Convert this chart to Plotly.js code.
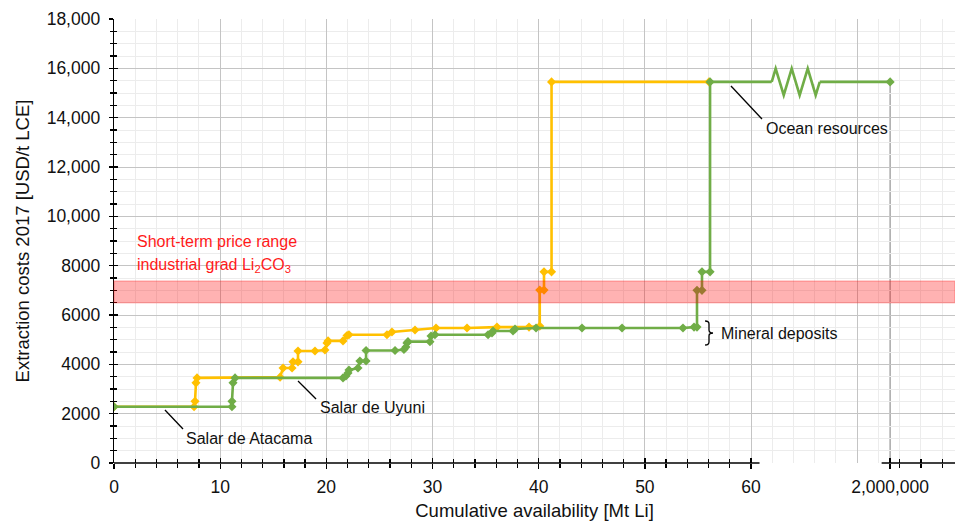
<!DOCTYPE html>
<html><head><meta charset="utf-8">
<script src="https://cdn.plot.ly/plotly-3.0.1.min.js"></script>
<style>html,body{margin:0;padding:0;background:#fff}</style>
</head><body><div id="chart" style="width:955px;height:522px"></div>
<script>
// ---- Data: cumulative availability [Mt Li] vs extraction cost 2017 [USD/t LCE]
const orangeX = [0, 7.54, 7.63, 7.72, 7.82, 15.64, 15.92, 16.77, 16.86, 17.33, 17.33, 18.93, 19.87, 20.06, 20.16, 21.57, 21.95, 22.13, 25.71, 26.18, 28.35, 30.33, 33.25, 36.07, 39.09, 40.1, 40.1, 40.5, 40.5, 41.21, 41.21, 56.04];
const orangeY = [2280, 2280, 2500, 3250, 3450, 3480, 3850, 3850, 4100, 4100, 4540, 4540, 4580, 4860, 4950, 4950, 5170, 5200, 5200, 5310, 5390, 5470, 5470, 5510, 5510, 5550, 7010, 7010, 7750, 7750, 15450, 15450];

const greenX = [0, 11.11, 11.11, 11.21, 11.40, 21.57, 21.85, 22.04, 22.13, 22.98, 23.16, 23.74, 23.74, 26.47, 27.31, 27.50, 27.59, 27.69, 29.76, 29.86, 30.23, 35.23, 35.60, 35.70, 37.58, 37.77, 39.75, 44.08, 47.85, 53.59, 54.63, 54.91, 54.91, 55.38, 55.38, 56.14, 56.14, 2000000];
const greenY = [2280, 2280, 2500, 3250, 3450, 3450, 3530, 3650, 3770, 3850, 4135, 4135, 4560, 4560, 4600, 4700, 4865, 4920, 4920, 5150, 5200, 5200, 5270, 5350, 5350, 5430, 5470, 5470, 5470, 5470, 5510, 5510, 7000, 7000, 7750, 7750, 15450, 15450];

const priceBand = [6500, 7380];          // short-term price range industrial grade Li2CO3
const xTickVals = [0, 10, 20, 30, 40, 50, 60, 2000000];
const xTickText = ['0', '10', '20', '30', '40', '50', '60', '2,000,000'];
const yTickVals = [0, 2000, 4000, 6000, 8000, 10000, 12000, 14000, 16000, 18000];
const yTickText = ['0', '2000', '4000', '6000', '8000', '10,000', '12,000', '14,000', '16,000', '18,000'];

// ---- broken x axis: linear 0..~61, then the 2,000,000 mark placed after the break
const BRK = {segEnd: 60.8, segStart: 72.3, bigValue: 2000000, bigAt: 73.1, axisMax: 79.21};
function toAxis(v) { return v <= 62 ? v : BRK.bigAt + (v - BRK.bigValue) / 100000; }

const FONT = 'Liberation Sans, Arial, Helvetica, sans-serif';
const ORANGE = '#FFC000', GREEN = '#70AD47';

const majorX = xTickVals.map(toAxis);
const minorXTicks = [], minorXGrid = [], majorXGrid = [];
for (let v = 2; v <= 58; v += 2) if (v % 10) minorXTicks.push(v);
for (let v = 74; v <= 78; v += 2) minorXTicks.push(v);
for (let v = 0; v <= 78; v += 2) minorXGrid.push(v);
for (let v = 0; v <= 70; v += 10) majorXGrid.push(v);

const traces = [
  {x: orangeX.map(toAxis), y: orangeY, xaxis: 'x', yaxis: 'y', mode: 'lines+markers',
   line: {color: ORANGE, width: 2.6}, marker: {symbol: 'diamond', size: 7, color: ORANGE}, hoverinfo: 'skip'},
  {x: greenX.map(toAxis), y: greenY, xaxis: 'x', yaxis: 'y', mode: 'lines+markers',
   line: {color: GREEN, width: 2.6}, marker: {symbol: 'diamond', size: 7, color: GREEN}, hoverinfo: 'skip'},
  {x: [null], y: [null], xaxis: 'x2', yaxis: 'y2', mode: 'markers', hoverinfo: 'skip'},
  {x: [null], y: [null], xaxis: 'x3', yaxis: 'y3', mode: 'markers', hoverinfo: 'skip'}
];

const tickStyle = {tickcolor: '#000', tickwidth: 1.3};
const xr = [0, BRK.axisMax];
const layout = {
  width: 955, height: 522, margin: {l: 114, r: 0, t: 19, b: 59},
  paper_bgcolor: '#fff', plot_bgcolor: '#fff', showlegend: false,
  font: {family: FONT, color: '#111', size: 16},
  xaxis: {range: xr, tickmode: 'array', tickvals: majorXGrid, ticks: '', showticklabels: false,
    showgrid: true, gridcolor: '#c4c4c4', gridwidth: 1, zeroline: false, showline: false, fixedrange: true,
    minor: {tickmode: 'array', tickvals: minorXGrid, showgrid: true, gridcolor: '#ececec', gridwidth: 1, ticks: ''}},
  xaxis2: Object.assign({overlaying: 'x', anchor: 'y2', range: xr, tickmode: 'array', tickvals: majorX, ticktext: xTickText,
    ticks: 'outside', ticklen: 5, showgrid: false, zeroline: false, showline: false, ticklabelstandoff: 3,
    tickfont: {size: 17.5, color: '#111'},
    title: {text: 'Cumulative availability [Mt Li]', font: {size: 18.5, color: '#111'}, standoff: 8},
    minor: Object.assign({tickmode: 'array', tickvals: minorXTicks, ticks: 'outside', ticklen: 4, showgrid: false}, tickStyle)}, tickStyle),
  xaxis3: Object.assign({overlaying: 'x', anchor: 'y3', range: xr, tickmode: 'array', tickvals: majorX,
    ticks: 'inside', ticklen: 5, showticklabels: false, showgrid: false, zeroline: false, showline: false,
    minor: Object.assign({tickmode: 'array', tickvals: minorXTicks, ticks: 'inside', ticklen: 4, showgrid: false}, tickStyle)}, tickStyle),
  yaxis: {range: [0, 18000], tickmode: 'array', tickvals: yTickVals, ticks: '', showticklabels: false,
    showgrid: true, gridcolor: '#c4c4c4', gridwidth: 1, zeroline: false, showline: false, fixedrange: true,
    minor: {dtick: 500, showgrid: true, gridcolor: '#ececec', gridwidth: 1, ticks: ''}},
  yaxis2: Object.assign({overlaying: 'y', anchor: 'x2', side: 'left', range: [0, 18000], tickmode: 'array',
    tickvals: yTickVals, ticktext: yTickText, ticks: 'outside', ticklen: 4, showgrid: false, zeroline: false,
    showline: true, linecolor: '#000', linewidth: 1.3, ticklabelstandoff: 5,
    tickfont: {size: 17.5, color: '#111'},
    title: {text: 'Extraction costs 2017 [USD/t LCE]', font: {size: 18.5, color: '#111'}, standoff: 12},
    minor: Object.assign({dtick: 500, ticks: 'outside', ticklen: 3, showgrid: false}, tickStyle)}, tickStyle),
  yaxis3: Object.assign({overlaying: 'y', anchor: 'x3', side: 'left', range: [0, 18000], tickmode: 'array',
    tickvals: yTickVals, ticks: 'inside', ticklen: 4, showticklabels: false, showgrid: false, zeroline: false, showline: false,
    minor: Object.assign({dtick: 500, ticks: 'inside', ticklen: 3, showgrid: false}, tickStyle)}, tickStyle),
  shapes: [],
  annotations: []
};

const oceanCost = greenY[greenY.length - 1];
const bigX = toAxis(greenX[greenX.length - 1]);
// drop line under the 2,000,000 point
layout.shapes.push({type: 'line', xref: 'x', yref: 'y', x0: bigX, x1: bigX, y0: 0, y1: oceanCost,
  line: {color: '#a8a8a8', width: 1.5}, layer: 'below'});
// broken x-axis line
layout.shapes.push({type: 'line', xref: 'x', yref: 'paper', x0: 0, x1: BRK.segEnd, y0: 0, y1: 0, line: {color: '#000', width: 1.3}});
layout.shapes.push({type: 'line', xref: 'x', yref: 'paper', x0: BRK.segStart, x1: BRK.axisMax, y0: 0, y1: 0, line: {color: '#000', width: 1.3}});
// price band
layout.shapes.push({type: 'rect', xref: 'paper', yref: 'y', x0: 0, x1: 1, y0: priceBand[0], y1: priceBand[1],
  fillcolor: 'rgba(255,0,0,0.3)', line: {color: 'rgba(255,0,0,0.22)', width: 1.5}, layer: 'above'});
// zigzag break on ocean line
const zx = [61.95, 62.32, 63.08, 63.83, 64.58, 65.34, 66.09, 66.47];
const zd = [0, 1, -1, 1, -1, 1, -1, 0];
layout.shapes.push({type: 'line', xref: 'x', yref: 'y', x0: zx[0], x1: zx[zx.length - 1], y0: oceanCost, y1: oceanCost,
  line: {color: '#fff', width: 4}, layer: 'above'});
layout.shapes.push({type: 'path', xref: 'x', yref: 'y', layer: 'above',
  path: zx.map((x, i) => (i ? 'L' : 'M') + x + ',' + (oceanCost + zd[i] * 540)).join(' '),
  line: {color: GREEN, width: 2.6}});
// brace for mineral deposits
layout.shapes.push({type: 'path', xref: 'x', yref: 'y', layer: 'above', line: {color: '#000', width: 1.3},
  path: 'M55.67,5757 Q56.04,5757 56.04,5635 L56.04,5392 Q56.04,5270 56.42,5270 Q56.04,5270 56.04,5149 L56.04,4905 Q56.04,4784 55.67,4784'});

// leader lines + labels
const annFont = {family: FONT, size: 16, color: '#111'};
function label(text, lx0, ly0, lx1, ly1, tx, ty) {
  layout.shapes.push({type: 'line', xref: 'x', yref: 'y', x0: lx0, y0: ly0, x1: lx1, y1: ly1,
    line: {color: '#000', width: 1.3}, layer: 'above'});
  layout.annotations.push({text: text, xref: 'x', yref: 'y', x: tx, y: ty, xanchor: 'left', yanchor: 'middle',
    showarrow: false, font: annFont});
}
label('Salar de Atacama', 4.8, 2150, 6.5, 1378, 6.6, 1013);
label('Salar de Uyuni', 17.33, 3324, 19.03, 2595, 19.2, 2230);
label('Ocean resources', 58.11, 15284, 61.03, 13946, 61.25, 13581);
layout.annotations.push({text: 'Mineral deposits', xref: 'x', yref: 'y', x: 57.0, y: 5270, xanchor: 'left', yanchor: 'middle',
  showarrow: false, font: annFont});
const redFont = {family: FONT, size: 16, color: '#ff1a1a'};
layout.annotations.push({text: 'Short-term price range', xref: 'x', yref: 'y', x: 2.0, y: 8960, xanchor: 'left', yanchor: 'middle',
  showarrow: false, font: redFont});
layout.annotations.push({text: 'industrial grad Li<sub>2</sub>CO<sub>3</sub>', xref: 'x', yref: 'y', x: 2.0, y: 8000, xanchor: 'left', yanchor: 'middle',
  showarrow: false, font: redFont});

Plotly.newPlot('chart', traces, layout, {staticPlot: true, displayModeBar: false});
</script></body></html>
